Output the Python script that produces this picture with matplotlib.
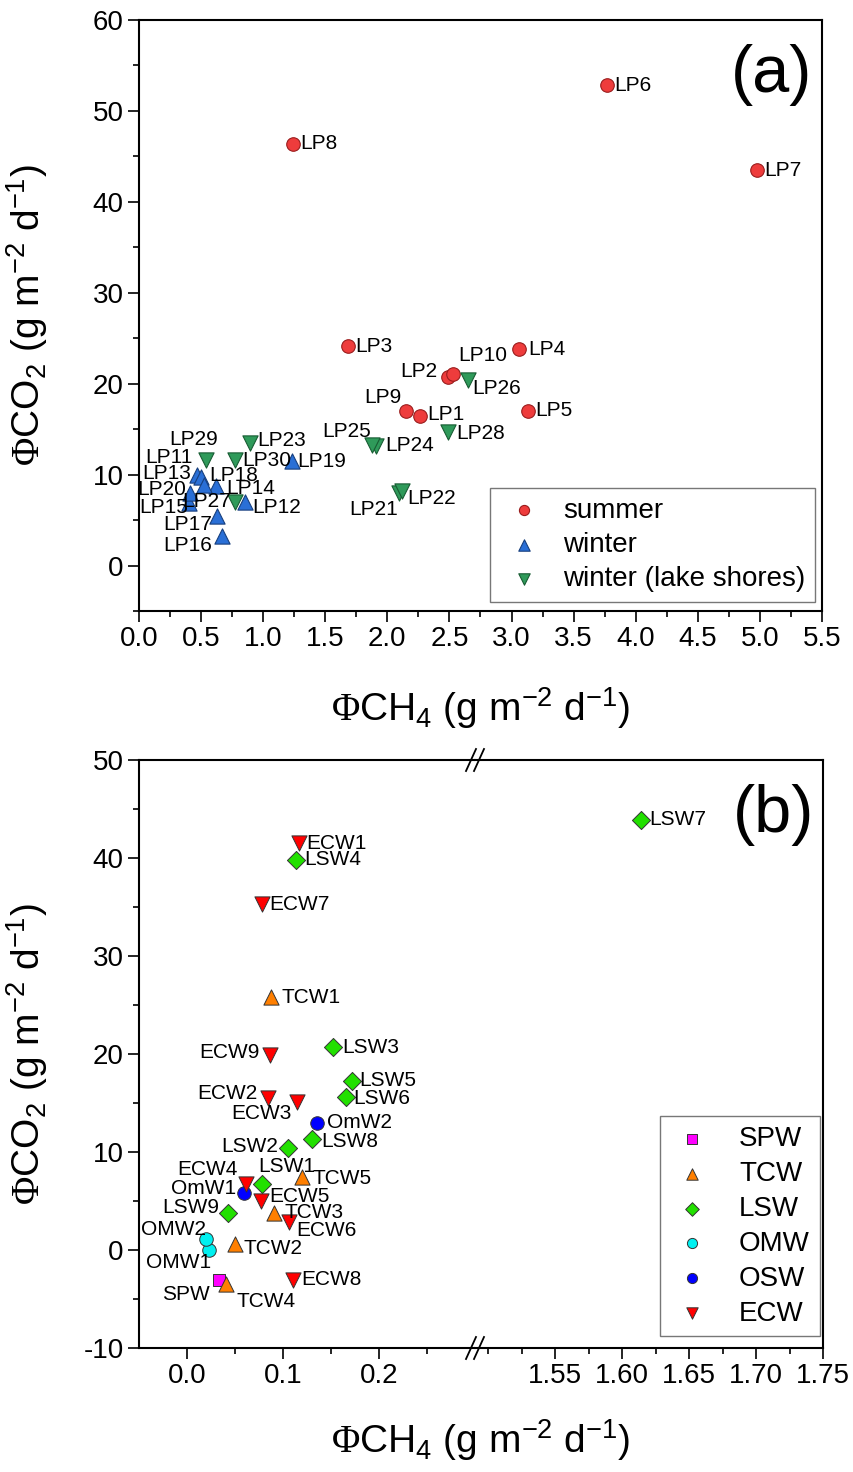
import matplotlib
matplotlib.use("Agg")
import matplotlib.pyplot as plt
from matplotlib.lines import Line2D
from matplotlib.ticker import MultipleLocator, FixedLocator

plt.rcParams["font.family"] = ["Liberation Sans", "DejaVu Sans"]
plt.rcParams["axes.unicode_minus"] = False
plt.rcParams["mathtext.fontset"] = "custom"
plt.rcParams["mathtext.rm"] = "Liberation Sans"
plt.rcParams["mathtext.it"] = "Liberation Sans:italic"
plt.rcParams["mathtext.cal"] = "Liberation Serif"

# ---- panel (a) data: CH4 flux vs CO2 flux (g m-2 d-1) ----
summer_names = ["LP1", "LP2", "LP3", "LP4", "LP5", "LP6", "LP7", "LP8", "LP9", "LP10"]
summer_ch4 = [2.26, 2.49, 1.68, 3.06, 3.13, 3.77, 4.98, 1.24, 2.15, 2.53]
summer_co2 = [16.5, 20.7, 24.1, 23.8, 17.0, 52.8, 43.5, 46.4, 17.0, 21.1]

winter_names = ["LP11", "LP12", "LP13", "LP14", "LP15", "LP16", "LP17", "LP18", "LP19", "LP20"]
winter_ch4 = [0.47, 0.85, 0.50, 0.62, 0.40, 0.67, 0.63, 0.52, 1.23, 0.41]
winter_co2 = [10.0, 7.0, 9.7, 8.7, 6.9, 3.2, 5.5, 8.9, 11.5, 8.0]

shore_names = ["LP21", "LP22", "LP23", "LP24", "LP25", "LP26", "LP27", "LP28", "LP29", "LP30"]
shore_ch4 = [2.09, 2.12, 0.89, 1.91, 1.88, 2.65, 0.77, 2.49, 0.54, 0.77]
shore_co2 = [8.0, 8.2, 13.5, 13.1, 13.3, 20.4, 7.0, 14.7, 11.6, 11.6]

# ---- panel (b) data ----
spw_names = ["SPW"]
spw_ch4 = [0.033]
spw_co2 = [-3.1]

tcw_names = ["TCW1", "TCW2", "TCW3", "TCW4", "TCW5"]
tcw_ch4 = [0.088, 0.050, 0.091, 0.041, 0.120]
tcw_co2 = [25.8, 0.6, 3.8, -3.5, 7.5]

lsw_names = ["LSW1", "LSW2", "LSW3", "LSW4", "LSW5", "LSW6", "LSW7", "LSW8", "LSW9"]
lsw_ch4 = [0.078, 0.105, 0.152, 0.114, 0.172, 0.166, 1.614, 0.130, 0.043]
lsw_co2 = [6.7, 10.4, 20.7, 39.8, 17.2, 15.6, 43.9, 11.3, 3.8]

omw_names = ["OMW1", "OMW2"]
omw_ch4 = [0.023, 0.020]
omw_co2 = [0.0, 1.1]

osw_names = ["OmW1", "OmW2"]
osw_ch4 = [0.059, 0.135]
osw_co2 = [5.8, 13.0]

ecw_names = ["ECW1", "ECW2", "ECW3", "ECW4", "ECW5", "ECW6", "ECW7", "ECW8", "ECW9"]
ecw_ch4 = [0.117, 0.084, 0.115, 0.061, 0.077, 0.106, 0.078, 0.110, 0.086]
ecw_co2 = [41.5, 15.5, 15.1, 6.7, 5.0, 2.9, 35.3, -3.1, 19.9]

# label placement: (dx px, dy px downward, ha)
label_pos = {
    "LP1": (8, -1, "left"), "LP2": (-11, -6, "right"), "LP3": (8, 0, "left"),
    "LP4": (9, 0, "left"), "LP5": (8, 0, "left"), "LP6": (7, 0, "left"),
    "LP7": (7, 0, "left"), "LP8": (7, 0, "left"), "LP9": (-4, -13, "right"),
    "LP10": (5, -18, "left"), "LP11": (-5, -17, "right"), "LP12": (8, 6, "left"),
    "LP13": (-10, -4, "right"), "LP14": (10, 2, "left"), "LP15": (-1, 5, "right"),
    "LP16": (-10, 9, "right"), "LP17": (-5, 9, "right"), "LP18": (6, -9, "left"),
    "LP19": (6, 1, "left"), "LP20": (-4, -3, "right"), "LP21": (-1, 17, "right"),
    "LP22": (5, 8, "left"), "LP23": (8, -2, "left"), "LP24": (9, -1, "left"),
    "LP25": (-1, -13, "right"), "LP26": (4, 8, "left"), "LP27": (-4, 0, "right"),
    "LP28": (8, 2, "left"), "LP29": (12, -21, "right"), "LP30": (8, 0, "left"),
    "ECW1": (7, 0, "left"), "LSW4": (8, 0, "left"), "ECW7": (7, 0, "left"),
    "TCW1": (10, 0, "left"), "ECW9": (-10, -2, "right"), "LSW3": (9, 0, "left"),
    "LSW7": (8, 0, "left"), "LSW5": (7, -1, "left"), "LSW6": (7, 1, "left"),
    "ECW2": (-10, -5, "right"), "ECW3": (-6, 11, "right"), "OmW2": (10, 0, "left"),
    "LSW8": (9, 2, "left"), "LSW2": (-10, -2, "right"), "LSW1": (-4, -18, "left"),
    "TCW5": (10, 2, "left"), "ECW4": (-8, -15, "right"), "OmW1": (-8, -5, "right"),
    "ECW5": (8, -5, "left"), "TCW3": (10, 0, "left"), "ECW6": (7, 9, "left"),
    "LSW9": (-9, -5, "right"), "OMW2": (0, -10, "right"), "OMW1": (2, 13, "right"),
    "TCW2": (9, 4, "left"), "SPW": (-9, 14, "right"), "TCW4": (10, 17, "left"),
    "ECW8": (9, -1, "left"),
}

ylab = r"$\mathcal{Φ}$CO$_2$ (g m$^{-2}$ d$^{-1}$)"
xlab = r"$\mathcal{Φ}$CH$_4$ (g m$^{-2}$ d$^{-1}$)"

W, H = 854, 1472
fig = plt.figure(figsize=(W / 100, H / 100), dpi=100)


def box(l, t, r, b):
    return [l / W, 1 - b / H, (r - l) / W, (b - t) / H]


def style(ax):
    ax.tick_params(axis="both", which="major", direction="out", length=8, width=1.2,
                   labelsize=20, top=False, right=False, pad=3)
    ax.tick_params(axis="both", which="minor", direction="out", length=4.5, width=1.2,
                   top=False, right=False)
    for s in ax.spines.values():
        s.set_linewidth(1.5)


def annotate(ax, names, xs, ys, fs=15):
    for n, x, y in zip(names, xs, ys):
        dx, dy, ha = label_pos[n]
        ax.annotate(n, (x, y), xytext=(dx, -dy), textcoords="offset pixels",
                    ha=ha, va="center", fontsize=fs, zorder=4)


# ================= panel (a) =================
ax = fig.add_axes(box(139, 20, 822, 611))
mk = dict(linewidths=0.8, zorder=3)
ax.scatter(summer_ch4, summer_co2, s=95, marker="o", c="#ee3c3c", edgecolors="#9a1c1c", label="summer", **mk)
ax.scatter(winter_ch4, winter_co2, s=120, marker="^", c="#2a6fd6", edgecolors="#173f7e", label="winter", **mk)
ax.scatter(shore_ch4, shore_co2, s=120, marker="v", c="#2f9a5a", edgecolors="#185c33", label="winter (lake shores)", **mk)
annotate(ax, summer_names, summer_ch4, summer_co2)
annotate(ax, winter_names, winter_ch4, winter_co2)
annotate(ax, shore_names, shore_ch4, shore_co2)
ax.set_xlim(0, 5.5)
ax.set_ylim(-5, 60)
ax.xaxis.set_major_locator(MultipleLocator(0.5))
ax.xaxis.set_minor_locator(MultipleLocator(0.25))
ax.yaxis.set_major_locator(MultipleLocator(10))
ax.yaxis.set_minor_locator(MultipleLocator(5))
ax.xaxis.set_major_formatter(plt.FormatStrFormatter("%.1f"))
style(ax)
ax.set_ylabel(ylab, fontsize=28)
ax.yaxis.set_label_coords(-0.13, 0.5)
ax.set_xlabel(xlab, fontsize=28)
ax.xaxis.set_label_coords(0.5, -0.125)
ax.text(0.985, 0.96, "(a)", transform=ax.transAxes, ha="right", va="top", fontsize=48)
leg = ax.legend(loc="lower right", bbox_to_anchor=(0.99, 0.015), borderaxespad=0,
                fontsize=20, markerscale=0.75, handletextpad=0.5, labelspacing=0.3,
                borderpad=0.35, fancybox=False, edgecolor="#555555", handlelength=1.8)
leg.get_frame().set_linewidth(1.0)

# ================= panel (b) with broken x axis =================
xb = 475
axL = fig.add_axes(box(139, 760, xb, 1348))
axR = fig.add_axes(box(xb, 760, 823, 1348), sharey=axL)

groups = [
    ("SPW", spw_names, spw_ch4, spw_co2, "s", "#ff00ff", 80),
    ("TCW", tcw_names, tcw_ch4, tcw_co2, "^", "#ff7f00", 120),
    ("LSW", lsw_names, lsw_ch4, lsw_co2, "D", "#22e000", 85),
    ("OMW", omw_names, omw_ch4, omw_co2, "o", "#00f0f0", 95),
    ("OSW", osw_names, osw_ch4, osw_co2, "o", "#0000ff", 95),
    ("ECW", ecw_names, ecw_ch4, ecw_co2, "v", "#ff0000", 120),
]
for lab, names, xs, ys, m, col, s in groups:
    for a in (axL, axR):
        a.scatter(xs, ys, s=s, marker=m, c=col, edgecolors="#333333", linewidths=0.7,
                  zorder=3, label=lab)
    left = [(n, x, y) for n, x, y in zip(names, xs, ys) if x < 0.5]
    right = [(n, x, y) for n, x, y in zip(names, xs, ys) if x >= 0.5]
    if left:
        annotate(axL, *zip(*left))
    if right:
        annotate(axR, *zip(*right))

axL.set_xlim(-0.05, 0.30)
axR.set_xlim(1.49, 1.75)
axL.set_ylim(-10, 50)
axL.xaxis.set_major_locator(FixedLocator([0.0, 0.1, 0.2]))
axL.xaxis.set_minor_locator(FixedLocator([0.05, 0.15, 0.25]))
axL.xaxis.set_major_formatter(plt.FormatStrFormatter("%.1f"))
axR.xaxis.set_major_locator(FixedLocator([1.55, 1.60, 1.65, 1.70, 1.75]))
axR.xaxis.set_minor_locator(FixedLocator([1.5, 1.525, 1.575, 1.625, 1.675, 1.725]))
axR.xaxis.set_major_formatter(plt.FormatStrFormatter("%.2f"))
axL.yaxis.set_major_locator(MultipleLocator(10))
axL.yaxis.set_minor_locator(MultipleLocator(5))
style(axL)
style(axR)
axL.spines["right"].set_visible(False)
axR.spines["left"].set_visible(False)
axR.tick_params(axis="y", which="both", left=False, labelleft=False)
axL.set_ylabel(ylab, fontsize=28)
axL.yaxis.set_label_coords(-0.13 * 683 / 336, 0.5)
fig.text(481 / W, 1 - 1440 / H, xlab, fontsize=28, ha="center", va="center")
axR.text(0.975, 0.96, "(b)", transform=axR.transAxes, ha="right", va="top", fontsize=48)

# break marks "//" on top and bottom axis lines
for yy in (760, 1348):
    for off in (-4, 4):
        x0 = (xb + off - 5) / W
        x1 = (xb + off + 5) / W
        y0 = 1 - (yy + 11) / H
        y1 = 1 - (yy - 11) / H
        fig.add_artist(Line2D([x0, x1], [y0, y1], transform=fig.transFigure, color="black", lw=1.3))

h, l = axL.get_legend_handles_labels()
legb = axR.legend(h, l, loc="lower right", bbox_to_anchor=(0.99, 0.02), borderaxespad=0,
                  fontsize=20, markerscale=0.75, handletextpad=0.9, labelspacing=0.32,
                  borderpad=0.35, fancybox=False, edgecolor="#555555", handlelength=1.6)
legb.get_frame().set_linewidth(1.0)

fig.savefig("out.png", dpi=100)
